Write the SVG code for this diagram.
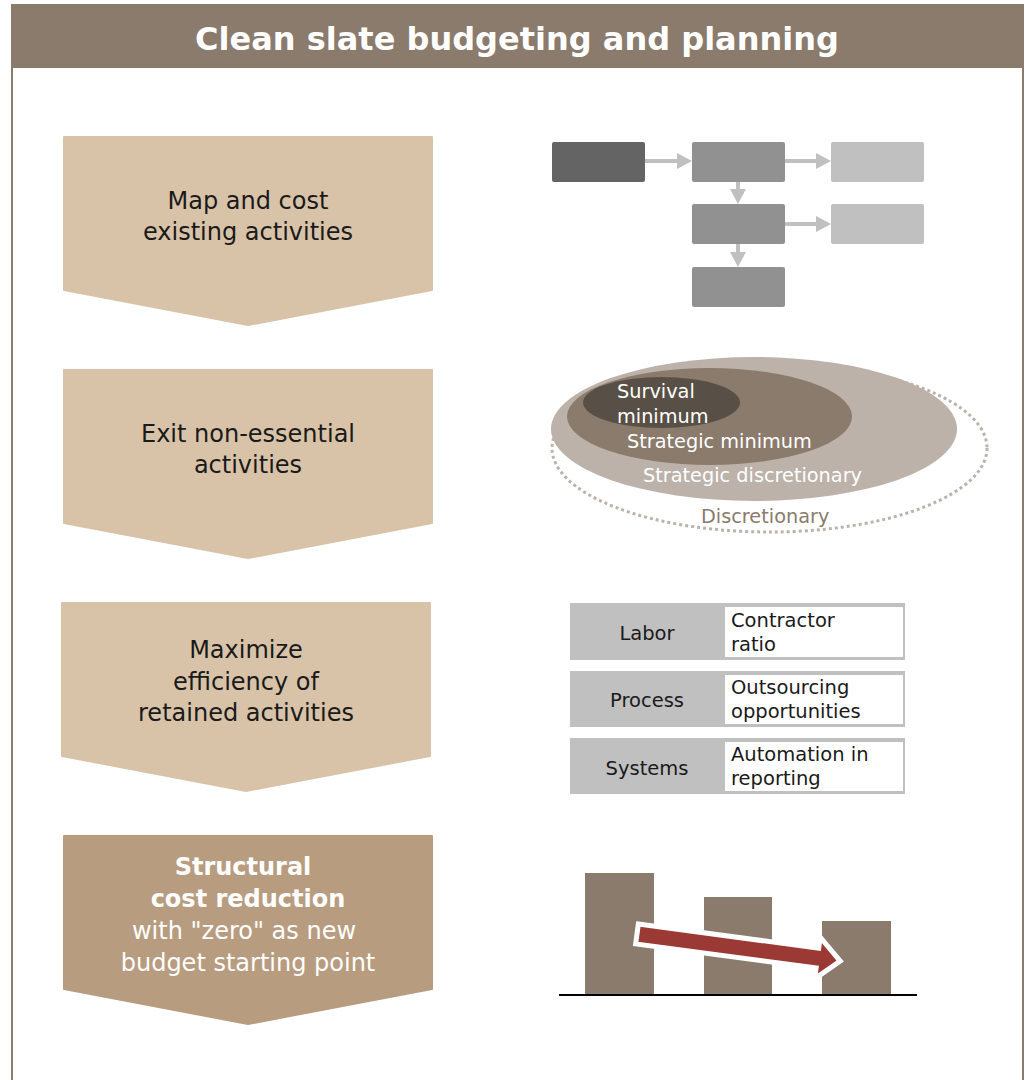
<svg xmlns="http://www.w3.org/2000/svg" width="1029" height="1080" viewBox="0 0 1029 1080">
<style>
.t{font-family:"DejaVu Sans","Open Sans",sans-serif}
.step{font-size:24px;fill:#1a1a1a;text-anchor:middle}
.chev{fill:#d8c3a8;stroke:#d8c3a8;stroke-width:2;stroke-linejoin:round}
.conn{stroke:#c0c0c0;stroke-width:4;fill:none}
.ell{font-size:19.3px;fill:#fff}
.lab{font-size:19.5px;fill:#1a1a1a}
.bar{fill:#8a7b6c}
.w{font-size:24px;fill:#fff;text-anchor:middle}
</style>
<defs>
<marker id="ah" markerWidth="3.75" markerHeight="4" refX="0" refY="2" orient="auto" markerUnits="strokeWidth">
<path d="M0,0 L3.75,2 L0,4 Z" fill="#c0c0c0"/>
</marker>
</defs>
<rect x="0" y="0" width="1029" height="1080" fill="#fff"/>
<g id="frame">
<rect x="12" y="5" width="1011" height="1090" fill="#fff" stroke="#8a7b6c" stroke-width="2"/>
<rect x="11" y="5" width="1013" height="63" fill="#8a7b6c"/>
<text class="t" x="517" y="50" font-size="32" font-weight="bold" fill="#fff" text-anchor="middle">Clean slate budgeting and planning</text>
</g>
<g id="step1">
<path class="chev" d="M64,137 H432 V290 L248,325 L64,290 Z"/>
<text class="t step" x="248" y="209">Map and cost</text>
<text class="t step" x="248" y="240">existing activities</text>
</g>
<g id="step2">
<path class="chev" d="M64,370 H432 V523 L248,558 L64,523 Z"/>
<text class="t step" x="248" y="442">Exit non-essential</text>
<text class="t step" x="248" y="473">activities</text>
</g>
<g id="step3">
<path class="chev" d="M62,603 H430 V756 L246,791 L62,756 Z"/>
<text class="t step" x="246" y="658">Maximize</text>
<text class="t step" x="246" y="690">efficiency of</text>
<text class="t step" x="246" y="721">retained activities</text>
</g>
<g id="step4">
<path d="M64,836 H432 V989 L248,1024 L64,989 Z" fill="#b89c80" stroke="#b89c80" stroke-width="2" stroke-linejoin="round"/>
<text class="t w" x="243" y="875" font-weight="bold">Structural</text>
<text class="t w" x="248" y="907" font-weight="bold">cost reduction</text>
<text class="t w" x="244" y="939">with "zero" as new</text>
<text class="t w" x="248" y="971">budget starting point</text>
</g>
<g id="flow">
<rect id="fb1" x="552" y="142" width="93" height="40" rx="2" fill="#646464"/>
<rect id="fb2" x="692" y="142" width="93" height="40" rx="2" fill="#919191"/>
<rect id="fb3" x="831" y="142" width="93" height="40" rx="2" fill="#c0c0c0"/>
<rect id="fb4" x="692" y="204" width="93" height="40" rx="2" fill="#919191"/>
<rect id="fb5" x="831" y="204" width="93" height="40" rx="2" fill="#c0c0c0"/>
<rect id="fb6" x="692" y="267" width="93" height="40" rx="2" fill="#919191"/>
</g>
<g id="connectors">
<line class="conn" x1="645" y1="161" x2="677" y2="161" marker-end="url(#ah)"/>
<line class="conn" x1="785" y1="161" x2="816" y2="161" marker-end="url(#ah)"/>
<line class="conn" x1="785" y1="224" x2="816" y2="224" marker-end="url(#ah)"/>
<line class="conn" x1="738" y1="182" x2="738" y2="189" marker-end="url(#ah)"/>
<line class="conn" x1="738" y1="244" x2="738" y2="252" marker-end="url(#ah)"/>
</g>
<g id="ellipses">
<ellipse cx="769.5" cy="448" rx="217.5" ry="84" fill="none" stroke="#bcb2aa" stroke-width="3" stroke-dasharray="3 3"/>
<ellipse cx="754" cy="429" rx="203" ry="72" fill="#bcb2aa"/>
<ellipse cx="709.5" cy="416.5" rx="142.5" ry="48.5" fill="#8a7b6c"/>
<ellipse cx="661.5" cy="402.5" rx="78.5" ry="25.5" fill="#585046"/>
<text class="t ell" x="617" y="398">Survival</text>
<text class="t ell" x="617" y="423">minimum</text>
<text class="t ell" x="627" y="448">Strategic minimum</text>
<text class="t ell" x="643" y="482">Strategic discretionary</text>
<text class="t ell" x="701" y="523" style="fill:#8a7b6c">Discretionary</text>
</g>
<g id="table">
<g id="row1">
<rect x="570" y="603" width="335" height="57" fill="#c0c0c0"/>
<rect x="725" y="607" width="178" height="50" fill="#fff"/>
<text class="t lab" x="647" y="640" text-anchor="middle">Labor</text>
<text class="t lab" x="731" y="627">Contractor</text>
<text class="t lab" x="731" y="651">ratio</text>
</g>
<g id="row2">
<rect x="570" y="671" width="335" height="56" fill="#c0c0c0"/>
<rect x="725" y="675" width="178" height="49" fill="#fff"/>
<text class="t lab" x="647" y="707" text-anchor="middle">Process</text>
<text class="t lab" x="731" y="694">Outsourcing</text>
<text class="t lab" x="731" y="718">opportunities</text>
</g>
<g id="row3">
<rect x="570" y="738" width="335" height="56" fill="#c0c0c0"/>
<rect x="725" y="742" width="178" height="49" fill="#fff"/>
<text class="t lab" x="647" y="775" text-anchor="middle">Systems</text>
<text class="t lab" x="731" y="761">Automation in</text>
<text class="t lab" x="731" y="785">reporting</text>
</g>
</g>
<g id="chart">
<rect class="bar" x="585" y="873" width="69" height="122"/>
<rect class="bar" x="704" y="897" width="68" height="98"/>
<rect class="bar" x="822" y="921" width="69" height="74"/>
<line x1="559" y1="995" x2="917" y2="995" stroke="#000" stroke-width="2"/>
<path transform="translate(637,934) rotate(7.6)" d="M0,-10 H182 V-21 L205,0 L182,21 V10 H0 Z" fill="#9b3a34" stroke="#fff" stroke-width="5" stroke-linejoin="miter"/>
</g>
</svg>
